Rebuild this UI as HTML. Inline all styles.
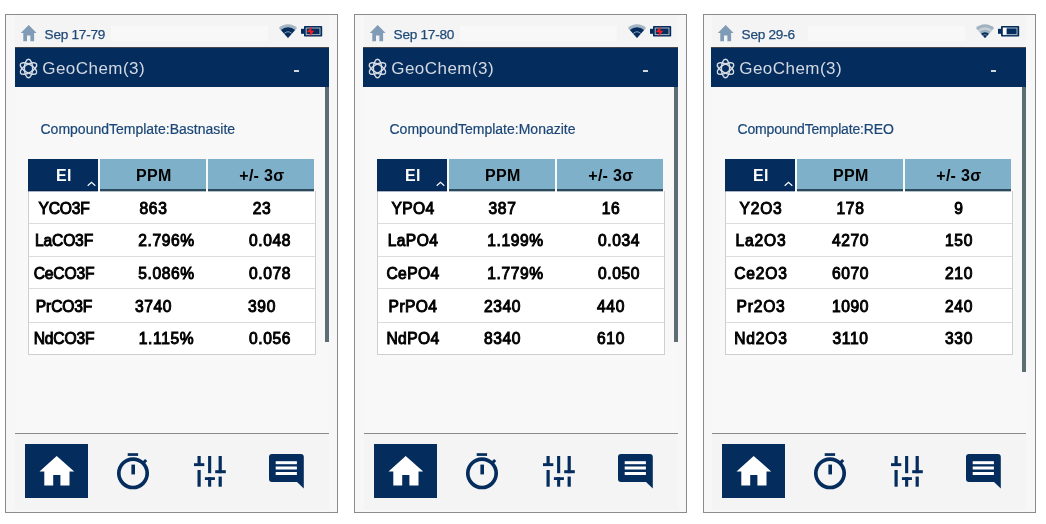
<!DOCTYPE html>
<html lang="en"><head><meta charset="utf-8"><title>GeoChem</title>
<style>
*{margin:0;padding:0;box-sizing:border-box}
html,body{width:1046px;height:524px;background:#fff;overflow:hidden}
body{font-family:"Liberation Sans",sans-serif;position:relative}
.p{position:absolute;top:0;left:0;width:0;height:0}
.p div,.p svg,.p span{position:absolute}
.frame{left:5px;top:14px;width:333px;height:499px;border:1px solid #8b8b8b;background:#f8f7f7}
.bar{left:15px;width:314px;background:#f4f4f4}
.inner{left:15px;top:87px;width:314px;height:346px;background:#f8f8f8}
.stat{left:44.6px;top:26.5px;font-size:13.6px;line-height:16px;letter-spacing:-0.25px;color:#1f4a78;-webkit-text-stroke:0.25px #1f4a78;white-space:nowrap}
.hdr{top:47px;height:40.4px;width:314px;background:#042c5d;border-top:1px solid #45494e}
.ttl{left:42.3px;top:56.6px;font-size:17px;line-height:24px;letter-spacing:0.45px;color:#d3d9e2;white-space:nowrap}
.dash{left:293.5px;top:70px;width:5.5px;height:2px;background:#d2d7de}
.sb{left:325px;top:87px;width:4px;background:#5c6e74}
.sub{left:40.5px;top:120.5px;font-size:14px;line-height:16px;color:#1b4778;-webkit-text-stroke:0.2px #1b4778;white-space:nowrap}
.th{top:159px;height:32.3px;font-weight:bold;font-size:16px;line-height:34.5px;letter-spacing:0.3px;padding-left:1.5px;text-align:center;white-space:nowrap}
.th1{left:28px;width:70.2px;background:#042c5d;color:#fff;border-bottom:1px solid #06244c;box-shadow:0 1px 0 rgba(4,44,93,0.35)}
.th2{left:99.7px;width:106.8px;background:#7eb0c9;color:#000;border-bottom:2px solid #2b4a5e;box-shadow:0 1px 0 rgba(43,74,94,0.35)}
.th3{left:208px;width:106.2px;background:#7eb0c9;color:#000;border-bottom:2px solid #2b4a5e;box-shadow:0 1px 0 rgba(43,74,94,0.35)}
.tb{left:28px;top:191.3px;width:287.5px;height:163.4px;background:#fff;border:1px solid #cfcfcf;border-top:none}
.rl{left:29px;width:285.5px;height:1px;background:#dcdcdc}
.c{font-size:15.6px;line-height:20px;color:#000;white-space:nowrap;transform:translateX(-50%);-webkit-text-stroke:0.95px #000;letter-spacing:0.6px}
.c1{letter-spacing:-0.15px}
.div{left:15px;top:433px;width:314px;height:1px;background:#8a8a8a}
.hb{left:25px;top:444px;width:63.4px;height:54px;background:#042c5d}
</style></head>
<body>
<div class="p" style="left:0px">
<div class="frame"></div>
<div class="p" style="left:0px">
<div class="bar" style="top:15px;height:32px"></div><div class="bar" style="top:434px;height:76px"></div>
<div class="inner"></div>
<div style="left:111px;top:26px;width:157px;height:15px;background:#f8f8f8"></div>
<svg style="left:20px;top:24px" width="18" height="18" viewBox="0 0 18 18"><path d="M8.7 1 L0.8 8.9 H3.3 V17.2 H7 V11.5 H10.4 V17.2 H14.1 V8.9 H16.6 Z" fill="#7f9bb6"/></svg>
<div class="stat">Sep 17-79</div>
<svg style="left:278px;top:23px" width="20" height="16" viewBox="0 0 20 16"><path d="M10 14.9 L0.9 4.9 A13.5 13.5 0 0 1 19.1 4.9 Z" fill="#a3b4c4"/><path d="M10 14.9 L2.9 7.1 A10.4 10.4 0 0 1 17.1 7.1 Z" fill="#042c5d"/><path d="M6.3 10.4 A5.6 5.6 0 0 1 13.7 10.4" stroke="#93a6ba" stroke-width="1" fill="none"/></svg>
<svg style="left:301px;top:26px" width="22" height="11" viewBox="0 0 22 11"><rect x="0" y="2.8" width="3.5" height="5" fill="#042c5d"/><rect x="3" y="0" width="18.2" height="10.6" rx="0.8" fill="#042c5d"/><rect x="5.2" y="2" width="13.8" height="6.6" fill="none" stroke="#aab8c6" stroke-width="1"/><path d="M10.9 0 L5.8 6.2 H9.2 L8.3 11 L13.4 4.7 H10.2 Z" fill="#ee1c25"/></svg>
<div class="hdr" style="left:15px;width:314px"></div>
<svg style="left:17px;top:57px" width="23" height="23" viewBox="-11.5 -11.5 23 23" fill="none" stroke="#d6dce4" stroke-width="1.4"><ellipse rx="4.1" ry="9.2"/><ellipse rx="4.1" ry="9.2" transform="rotate(60)"/><ellipse rx="4.1" ry="9.2" transform="rotate(-60)"/></svg>
<div class="ttl">GeoChem(3)</div>
<div class="dash"></div>
<div class="sb" style="height:254.6px"></div>
<div class="sub">CompoundTemplate:Bastnasite</div>
<div class="tb"></div>
<div class="th th1">El</div>
<svg style="left:86px;top:180px" width="11" height="7" viewBox="0 0 11 7"><path d="M1.7 5.7 L5.5 2.3 L9.3 5.7" fill="none" stroke="#fff" stroke-width="1.15"/></svg>
<div class="th th2">PPM</div>
<div class="th th3">+/- 3σ</div>
<div class="rl" style="top:222.9px"></div>
<div class="rl" style="top:255.7px"></div>
<div class="rl" style="top:288.4px"></div>
<div class="rl" style="top:321.6px"></div>
<div class="c c1" style="left:64.0px;top:198.6px">YCO3F</div>
<div class="c" style="left:153.5px;top:198.6px">863</div>
<div class="c" style="left:262.0px;top:198.6px">23</div>
<div class="c c1" style="left:64.0px;top:231.0px">LaCO3F</div>
<div class="c" style="left:166.5px;top:231.0px">2.796%</div>
<div class="c" style="left:270.0px;top:231.0px">0.048</div>
<div class="c c1" style="left:64.0px;top:263.7px">CeCO3F</div>
<div class="c" style="left:166.5px;top:263.7px">5.086%</div>
<div class="c" style="left:270.0px;top:263.7px">0.078</div>
<div class="c c1" style="left:64.0px;top:296.7px">PrCO3F</div>
<div class="c" style="left:153.5px;top:296.7px">3740</div>
<div class="c" style="left:262.0px;top:296.7px">390</div>
<div class="c c1" style="left:64.0px;top:329.3px">NdCO3F</div>
<div class="c" style="left:166.5px;top:329.3px">1.115%</div>
<div class="c" style="left:270.0px;top:329.3px">0.056</div>
<div class="div"></div>
<div class="hb"></div>
<svg style="left:39px;top:455px" width="36" height="32" viewBox="0 0 36 32"><path d="M17.7 1 L0.5 16.5 H5.3 V30.5 H14.2 V20 H21.4 V30.5 H30.5 V16.5 H35.2 Z" fill="#fff"/></svg>
<svg style="left:113px;top:450px" width="40" height="42" viewBox="0 0 40 42"><circle cx="20" cy="23.3" r="14.2" fill="none" stroke="#042c5d" stroke-width="3.7"/><rect x="14.7" y="3.2" width="10.4" height="2.7" fill="#042c5d"/><rect x="18.4" y="14.6" width="3.6" height="9.8" fill="#042c5d"/><path d="M29.6 13.6 L33.2 10" stroke="#042c5d" stroke-width="3" fill="none"/></svg>
<svg style="left:190px;top:452px" width="40" height="38" viewBox="190 452 40 38" fill="#042c5d"><rect x="197.5" y="456" width="3.2" height="10"/><rect x="194" y="463.2" width="10.3" height="2.9"/><rect x="197.5" y="470" width="3.2" height="16.7"/><rect x="208.1" y="456" width="3.1" height="17.2"/><rect x="204.9" y="477.2" width="10" height="2.8"/><rect x="208.1" y="477.2" width="3.1" height="9.5"/><rect x="218.6" y="456" width="3.2" height="17.2"/><rect x="215.2" y="470.2" width="10.6" height="3"/><rect x="218.6" y="476.6" width="3.2" height="10.1"/></svg>
<svg style="left:265px;top:450px" width="44" height="42" viewBox="265 450 44 42"><path d="M272 454 H300.8 Q303.8 454 303.8 457 V488.6 L297 482.1 H272 Q269 482.1 269 479.1 V457 Q269 454 272 454 Z" fill="#042c5d"/><rect x="275.7" y="461.2" width="21.2" height="3" fill="#fff"/><rect x="275.7" y="466.5" width="21.2" height="3" fill="#fff"/><rect x="275.7" y="472" width="21.2" height="3" fill="#fff"/></svg>
</div></div>
<div class="p" style="left:349px">
<div class="frame"></div>
<div class="p" style="left:0px">
<div class="bar" style="top:15px;height:32px"></div><div class="bar" style="top:434px;height:76px"></div>
<div class="inner"></div>
<div style="left:111px;top:26px;width:157px;height:15px;background:#f8f8f8"></div>
<svg style="left:20px;top:24px" width="18" height="18" viewBox="0 0 18 18"><path d="M8.7 1 L0.8 8.9 H3.3 V17.2 H7 V11.5 H10.4 V17.2 H14.1 V8.9 H16.6 Z" fill="#7f9bb6"/></svg>
<div class="stat">Sep 17-80</div>
<svg style="left:278px;top:23px" width="20" height="16" viewBox="0 0 20 16"><path d="M10 14.9 L0.9 4.9 A13.5 13.5 0 0 1 19.1 4.9 Z" fill="#a3b4c4"/><path d="M10 14.9 L2.9 7.1 A10.4 10.4 0 0 1 17.1 7.1 Z" fill="#042c5d"/><path d="M6.3 10.4 A5.6 5.6 0 0 1 13.7 10.4" stroke="#93a6ba" stroke-width="1" fill="none"/></svg>
<svg style="left:301px;top:26px" width="22" height="11" viewBox="0 0 22 11"><rect x="0" y="2.8" width="3.5" height="5" fill="#042c5d"/><rect x="3" y="0" width="18.2" height="10.6" rx="0.8" fill="#042c5d"/><rect x="5.2" y="2" width="13.8" height="6.6" fill="none" stroke="#aab8c6" stroke-width="1"/><path d="M10.9 0 L5.8 6.2 H9.2 L8.3 11 L13.4 4.7 H10.2 Z" fill="#ee1c25"/></svg>
<div class="hdr" style="left:14px;width:315px"></div>
<svg style="left:17px;top:57px" width="23" height="23" viewBox="-11.5 -11.5 23 23" fill="none" stroke="#d6dce4" stroke-width="1.4"><ellipse rx="4.1" ry="9.2"/><ellipse rx="4.1" ry="9.2" transform="rotate(60)"/><ellipse rx="4.1" ry="9.2" transform="rotate(-60)"/></svg>
<div class="ttl">GeoChem(3)</div>
<div class="dash"></div>
<div class="sb" style="height:254.6px"></div>
<div class="sub">CompoundTemplate:Monazite</div>
<div class="tb"></div>
<div class="th th1">El</div>
<svg style="left:86px;top:180px" width="11" height="7" viewBox="0 0 11 7"><path d="M1.7 5.7 L5.5 2.3 L9.3 5.7" fill="none" stroke="#fff" stroke-width="1.15"/></svg>
<div class="th th2">PPM</div>
<div class="th th3">+/- 3σ</div>
<div class="rl" style="top:222.9px"></div>
<div class="rl" style="top:255.7px"></div>
<div class="rl" style="top:288.4px"></div>
<div class="rl" style="top:321.6px"></div>
<div class="c c1" style="left:64.0px;top:198.6px;letter-spacing:0.4px">YPO4</div>
<div class="c" style="left:153.5px;top:198.6px">387</div>
<div class="c" style="left:262.0px;top:198.6px">16</div>
<div class="c c1" style="left:64.0px;top:231.0px;letter-spacing:0.4px">LaPO4</div>
<div class="c" style="left:166.5px;top:231.0px">1.199%</div>
<div class="c" style="left:270.0px;top:231.0px">0.034</div>
<div class="c c1" style="left:64.0px;top:263.7px;letter-spacing:0.4px">CePO4</div>
<div class="c" style="left:166.5px;top:263.7px">1.779%</div>
<div class="c" style="left:270.0px;top:263.7px">0.050</div>
<div class="c c1" style="left:64.0px;top:296.7px;letter-spacing:0.4px">PrPO4</div>
<div class="c" style="left:153.5px;top:296.7px">2340</div>
<div class="c" style="left:262.0px;top:296.7px">440</div>
<div class="c c1" style="left:64.0px;top:329.3px;letter-spacing:0.4px">NdPO4</div>
<div class="c" style="left:153.5px;top:329.3px">8340</div>
<div class="c" style="left:262.0px;top:329.3px">610</div>
<div class="div"></div>
<div class="hb"></div>
<svg style="left:39px;top:455px" width="36" height="32" viewBox="0 0 36 32"><path d="M17.7 1 L0.5 16.5 H5.3 V30.5 H14.2 V20 H21.4 V30.5 H30.5 V16.5 H35.2 Z" fill="#fff"/></svg>
<svg style="left:113px;top:450px" width="40" height="42" viewBox="0 0 40 42"><circle cx="20" cy="23.3" r="14.2" fill="none" stroke="#042c5d" stroke-width="3.7"/><rect x="14.7" y="3.2" width="10.4" height="2.7" fill="#042c5d"/><rect x="18.4" y="14.6" width="3.6" height="9.8" fill="#042c5d"/><path d="M29.6 13.6 L33.2 10" stroke="#042c5d" stroke-width="3" fill="none"/></svg>
<svg style="left:190px;top:452px" width="40" height="38" viewBox="190 452 40 38" fill="#042c5d"><rect x="197.5" y="456" width="3.2" height="10"/><rect x="194" y="463.2" width="10.3" height="2.9"/><rect x="197.5" y="470" width="3.2" height="16.7"/><rect x="208.1" y="456" width="3.1" height="17.2"/><rect x="204.9" y="477.2" width="10" height="2.8"/><rect x="208.1" y="477.2" width="3.1" height="9.5"/><rect x="218.6" y="456" width="3.2" height="17.2"/><rect x="215.2" y="470.2" width="10.6" height="3"/><rect x="218.6" y="476.6" width="3.2" height="10.1"/></svg>
<svg style="left:265px;top:450px" width="44" height="42" viewBox="265 450 44 42"><path d="M272 454 H300.8 Q303.8 454 303.8 457 V488.6 L297 482.1 H272 Q269 482.1 269 479.1 V457 Q269 454 272 454 Z" fill="#042c5d"/><rect x="275.7" y="461.2" width="21.2" height="3" fill="#fff"/><rect x="275.7" y="466.5" width="21.2" height="3" fill="#fff"/><rect x="275.7" y="472" width="21.2" height="3" fill="#fff"/></svg>
</div></div>
<div class="p" style="left:698px">
<div class="frame"></div>
<div class="p" style="left:-1px">
<div class="bar" style="top:15px;height:32px"></div><div class="bar" style="top:434px;height:76px"></div>
<div class="inner"></div>
<div style="left:111px;top:26px;width:157px;height:15px;background:#f8f8f8"></div>
<svg style="left:20px;top:24px" width="18" height="18" viewBox="0 0 18 18"><path d="M8.7 1 L0.8 8.9 H3.3 V17.2 H7 V11.5 H10.4 V17.2 H14.1 V8.9 H16.6 Z" fill="#7f9bb6"/></svg>
<div class="stat">Sep 29-6</div>
<svg style="left:278px;top:23px" width="20" height="16" viewBox="0 0 20 16"><path d="M10 14.9 L0.9 4.9 A13.5 13.5 0 0 1 19.1 4.9 Z" fill="#a3b2c1"/><path d="M10 14.9 L2.9 7.1 A10.4 10.4 0 0 1 17.1 7.1 Z" fill="#c6d0d9"/><path d="M10 14.9 L4.5 8.9 A8.1 8.1 0 0 1 15.5 8.9 Z" fill="#9fb0c0"/><path d="M10 14.9 L6.1 10.7 A5.8 5.8 0 0 1 13.9 10.7 Z" fill="#042c5d"/><path d="M8 12.4 A3 3 0 0 1 12 12.4" stroke="#7f95ad" stroke-width="0.8" fill="none"/></svg>
<svg style="left:301px;top:26px" width="22" height="11" viewBox="0 0 22 11"><rect x="0" y="2.8" width="3.5" height="5" fill="#042c5d"/><rect x="3" y="0" width="18.2" height="10.6" rx="0.8" fill="#042c5d"/><rect x="5.2" y="2" width="13.8" height="6.6" fill="none" stroke="#aab8c6" stroke-width="1"/><rect x="5" y="1.8" width="3.6" height="7" fill="#fff"/></svg>
<div class="hdr" style="left:14px;width:315px"></div>
<svg style="left:17px;top:57px" width="23" height="23" viewBox="-11.5 -11.5 23 23" fill="none" stroke="#d6dce4" stroke-width="1.4"><ellipse rx="4.1" ry="9.2"/><ellipse rx="4.1" ry="9.2" transform="rotate(60)"/><ellipse rx="4.1" ry="9.2" transform="rotate(-60)"/></svg>
<div class="ttl">GeoChem(3)</div>
<div class="dash"></div>
<div class="sb" style="height:284.6px"></div>
<div class="sub" style="letter-spacing:-0.17px">CompoundTemplate:REO</div>
<div class="tb"></div>
<div class="th th1">El</div>
<svg style="left:86px;top:180px" width="11" height="7" viewBox="0 0 11 7"><path d="M1.7 5.7 L5.5 2.3 L9.3 5.7" fill="none" stroke="#fff" stroke-width="1.15"/></svg>
<div class="th th2">PPM</div>
<div class="th th3">+/- 3σ</div>
<div class="rl" style="top:222.9px"></div>
<div class="rl" style="top:255.7px"></div>
<div class="rl" style="top:288.4px"></div>
<div class="rl" style="top:321.6px"></div>
<div class="c c1" style="left:64.0px;top:198.6px;letter-spacing:0.8px">Y2O3</div>
<div class="c" style="left:153.5px;top:198.6px">178</div>
<div class="c" style="left:262.0px;top:198.6px">9</div>
<div class="c c1" style="left:64.0px;top:231.0px;letter-spacing:0.8px">La2O3</div>
<div class="c" style="left:153.5px;top:231.0px">4270</div>
<div class="c" style="left:262.0px;top:231.0px">150</div>
<div class="c c1" style="left:64.0px;top:263.7px;letter-spacing:0.8px">Ce2O3</div>
<div class="c" style="left:153.5px;top:263.7px">6070</div>
<div class="c" style="left:262.0px;top:263.7px">210</div>
<div class="c c1" style="left:64.0px;top:296.7px;letter-spacing:0.8px">Pr2O3</div>
<div class="c" style="left:153.5px;top:296.7px">1090</div>
<div class="c" style="left:262.0px;top:296.7px">240</div>
<div class="c c1" style="left:64.0px;top:329.3px;letter-spacing:0.8px">Nd2O3</div>
<div class="c" style="left:153.5px;top:329.3px">3110</div>
<div class="c" style="left:262.0px;top:329.3px">330</div>
<div class="div"></div>
<div class="hb"></div>
<svg style="left:39px;top:455px" width="36" height="32" viewBox="0 0 36 32"><path d="M17.7 1 L0.5 16.5 H5.3 V30.5 H14.2 V20 H21.4 V30.5 H30.5 V16.5 H35.2 Z" fill="#fff"/></svg>
<svg style="left:113px;top:450px" width="40" height="42" viewBox="0 0 40 42"><circle cx="20" cy="23.3" r="14.2" fill="none" stroke="#042c5d" stroke-width="3.7"/><rect x="14.7" y="3.2" width="10.4" height="2.7" fill="#042c5d"/><rect x="18.4" y="14.6" width="3.6" height="9.8" fill="#042c5d"/><path d="M29.6 13.6 L33.2 10" stroke="#042c5d" stroke-width="3" fill="none"/></svg>
<svg style="left:190px;top:452px" width="40" height="38" viewBox="190 452 40 38" fill="#042c5d"><rect x="197.5" y="456" width="3.2" height="10"/><rect x="194" y="463.2" width="10.3" height="2.9"/><rect x="197.5" y="470" width="3.2" height="16.7"/><rect x="208.1" y="456" width="3.1" height="17.2"/><rect x="204.9" y="477.2" width="10" height="2.8"/><rect x="208.1" y="477.2" width="3.1" height="9.5"/><rect x="218.6" y="456" width="3.2" height="17.2"/><rect x="215.2" y="470.2" width="10.6" height="3"/><rect x="218.6" y="476.6" width="3.2" height="10.1"/></svg>
<svg style="left:265px;top:450px" width="44" height="42" viewBox="265 450 44 42"><path d="M272 454 H300.8 Q303.8 454 303.8 457 V488.6 L297 482.1 H272 Q269 482.1 269 479.1 V457 Q269 454 272 454 Z" fill="#042c5d"/><rect x="275.7" y="461.2" width="21.2" height="3" fill="#fff"/><rect x="275.7" y="466.5" width="21.2" height="3" fill="#fff"/><rect x="275.7" y="472" width="21.2" height="3" fill="#fff"/></svg>
</div></div>
</body></html>
